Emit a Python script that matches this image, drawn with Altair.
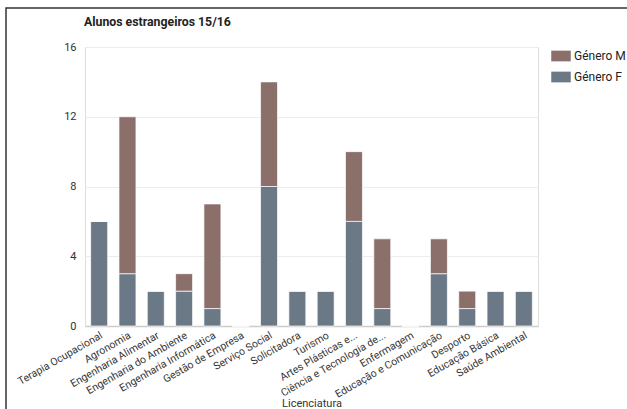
import altair as alt
import pandas as pd

categorias = ["Terapia Ocupacional", "Agronomia", "Engenharia Alimentar", "Engenharia do Ambiente",
              "Engenharia Informática", "Gestão de Empresa", "Serviço Social", "Solicitadora", "Turismo",
              "Artes Plásticas e...", "Ciência e Tecnologia de...", "Enfermagem", "Educação e Comunicação",
              "Desporto", "Educação Básica", "Saúde Ambiental"]
genero_f = [6, 3, 2, 2, 1, 0, 8, 2, 2, 6, 1, 0, 3, 1, 2, 2]
genero_m = [0, 9, 0, 1, 6, 0, 6, 0, 0, 4, 4, 0, 2, 1, 0, 0]
series = ["Género M", "Género F"]
cores = ["#8b6f6b", "#6b7986"]
y_ticks = [0, 4, 8, 12, 16]
titulo = "Alunos estrangeiros 15/16"

rows = []
for c, f, m in zip(categorias, genero_f, genero_m):
    rows.append({"Licenciatura": c, "Género": "Género F", "valor": f, "ordem": 0})
    rows.append({"Licenciatura": c, "Género": "Género M", "valor": m, "ordem": 1})
df = pd.DataFrame(rows)

FONT = "Roboto"

bars = alt.Chart(df).mark_bar(stroke="white", strokeWidth=1, strokeOpacity=0.7).encode(
    x=alt.X("Licenciatura:N", sort=categorias,
            scale=alt.Scale(paddingInner=0.4, paddingOuter=0.2),
            axis=alt.Axis(title="Licenciatura", labelAngle=-30, labelAlign="right", labelBaseline="top",
                          labelFontSize=10.5, labelColor="#333", labelFont=FONT, ticks=False,
                          labelPadding=4, domainColor="#cccccc", domainWidth=1.5,
                          titleFont=FONT, titleFontSize=11, titleFontWeight="normal", titleColor="#333",
                          titlePadding=-2)),
    y=alt.Y("valor:Q", stack="zero", scale=alt.Scale(domain=[0, 16], nice=False),
            axis=alt.Axis(title=None, values=y_ticks, domain=False, ticks=False, labelPadding=9,
                          labelFontSize=11, labelColor="#333", labelFont=FONT,
                          gridColor="#ececec", gridWidth=1.2)),
    color=alt.Color("Género:N", scale=alt.Scale(domain=series, range=cores),
                    legend=alt.Legend(title=None, orient="none", legendX=466, legendY=-1,
                                      symbolType="M-1,-0.55H1V0.55H-1Z", symbolSize=380,
                                      symbolStrokeWidth=0, symbolOpacity=1,
                                      labelFontSize=12, labelFont=FONT, labelColor="#222",
                                      labelOffset=3, rowPadding=5)),
    order=alt.Order("ordem:Q", sort="ascending"),
)

title_df = pd.DataFrame({"t": [titulo]})
title_mark = alt.Chart(title_df).mark_text(
    align="left", baseline="alphabetic", font=FONT, fontSize=12.3, fontWeight="bold",
    color="#222", clip=False).encode(text="t:N", x=alt.value(-1), y=alt.value(-21))

frame = alt.Chart(title_df).mark_rect(fill=None, fillOpacity=0, stroke="#333", strokeWidth=1.5,
                                       clip=False).encode(
    x=alt.value(-79), x2=alt.value(620), y=alt.value(-39), y2=alt.value(450))

chart = alt.layer(frame, bars, title_mark).properties(
    width=453, height=279,
    autosize=alt.AutoSizeParams(type="none"),
    padding={"left": 85, "top": 47, "right": 89, "bottom": 83},
).configure_view(stroke=None).configure(background="white")

chart.save("out.html", embed_options={"renderer": "svg", "actions": False})
